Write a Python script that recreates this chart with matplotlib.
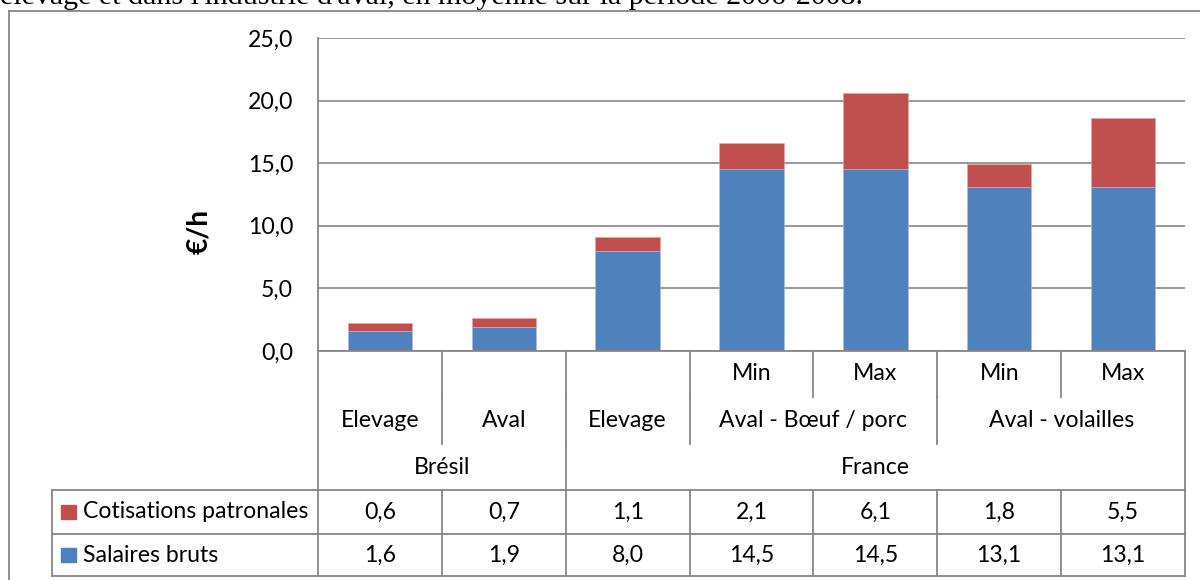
import matplotlib
matplotlib.use("Agg")
import matplotlib.pyplot as plt
from matplotlib.lines import Line2D
from matplotlib.patches import Rectangle
from matplotlib.textpath import TextPath
from matplotlib.font_manager import FontProperties

# ---- data -----------------------------------------------------------------
level1 = ["", "", "", "Min", "Max", "Min", "Max"]
level2 = ["Elevage", "Aval", "Elevage", "Aval - Bœuf / porc", "Aval - Bœuf / porc",
          "Aval - volailles", "Aval - volailles"]
level3 = ["Brésil", "Brésil", "France", "France", "France", "France", "France"]
series_names = ["Cotisations patronales", "Salaires bruts"]
cotisations = [0.6, 0.7, 1.1, 2.1, 6.1, 1.8, 5.5]
salaires = [1.6, 1.9, 8.0, 14.5, 14.5, 13.1, 13.1]
y_ticks = [0, 5, 10, 15, 20, 25]
y_label = "€/h"
caption = "élevage et dans l'industrie d'aval, en moyenne sur la période 2006-2008."

# ---- style ------------------------------------------------------------------
W, H, DPI = 1200, 580, 100
BLUE = "#4F81BD"
RED = "#C0504D"
GRID = "#878787"
UI_FONT = "Lato"
SERIF = "Liberation Serif"


def fit_size(text, family, target_px, weight="normal"):
    fp = FontProperties(family=family, weight=weight)
    ext = TextPath((0, 0), text, size=10, prop=fp).get_extents()
    return 10 * target_px / (ext.width * DPI / 72)


def fx(x):
    return x / W


def fy(y):
    return 1 - y / H


fs = fit_size("Cotisations patronales", UI_FONT, 223)
fs_caption = fit_size(caption, SERIF, 860)

fig = plt.figure(figsize=(W / DPI, H / DPI), dpi=DPI)
fig.patch.set_facecolor("white")

plot_left, plot_right, plot_top, plot_bottom = 318, 1185, 38, 351
ax = fig.add_axes([fx(plot_left), fy(plot_bottom),
                   fx(plot_right - plot_left), (plot_bottom - plot_top) / H])

n = len(salaires)
xs = list(range(n))
bw = 0.52
ax.bar(xs, salaires, width=bw, color=BLUE, edgecolor="#A7C0DE", linewidth=0.5, zorder=3)
ax.bar(xs, cotisations, width=bw, bottom=salaires, color=RED, edgecolor="#DFA8A6",
       linewidth=0.5, zorder=3)

ax.set_xlim(-0.5, n - 0.5)
ax.set_ylim(y_ticks[0], y_ticks[-1])
ax.set_yticks(y_ticks)
ax.set_yticklabels([f"{v:.1f}".replace(".", ",") for v in y_ticks],
                   fontsize=fs, family=UI_FONT)
ax.set_xticks([])
ax.tick_params(axis="y", length=0, pad=18)
ax.grid(axis="y", color=GRID, linewidth=1.2, zorder=0)
for s in ax.spines.values():
    s.set_visible(False)

fig.text(fx(199), fy(231), y_label, rotation=90, ha="center", va="center",
         fontsize=fs * 1.22, fontweight="bold", family=UI_FONT)

# caption line cut at the top edge
fig.text(fx(0), fy(3.5), caption, ha="left", va="baseline", fontsize=fs_caption,
         family=SERIF, color="black")

# outer chart frame
fig.add_artist(Line2D([fx(9), fx(1200)], [fy(11), fy(11)], color=GRID, lw=1.3))
fig.add_artist(Line2D([fx(9), fx(9)], [fy(11), fy(600)], color=GRID, lw=1.3))

# ---- category axis & data table ---------------------------------------------
fig.canvas.draw()
edges = [ax.transData.transform((k - 0.5, 0))[0] for k in range(n + 1)]
centers = [(edges[k] + edges[k + 1]) / 2 for k in range(n)]

row_y = [351, 397, 444, 490, 534, 576]
legend_left = 52


def hline(y, x0, x1):
    fig.add_artist(Line2D([fx(x0), fx(x1)], [fy(y), fy(y)], color=GRID, lw=1.3))


def vline(x, y0, y1):
    fig.add_artist(Line2D([fx(x), fx(x)], [fy(y0), fy(y1)], color=GRID, lw=1.3))


def put(x, y, s):
    fig.text(fx(x), fy(y), s, ha="center", va="center", fontsize=fs, family=UI_FONT)


# axis line and outer borders of the table
vline(edges[0], plot_top, row_y[5])
vline(edges[-1], row_y[0], row_y[5])
hline(row_y[0], edges[0], edges[-1])
for y in (row_y[3], row_y[4], row_y[5]):
    hline(y, legend_left, edges[-1])
vline(legend_left, row_y[3], row_y[5])


def spans(labels):
    out, start = [], 0
    for k in range(1, len(labels) + 1):
        if k == len(labels) or labels[k] != labels[start]:
            out.append((labels[start], start, k))
            start = k
    return out


# level rows: separators where the label changes, labels centred on spans
for r, labels in enumerate([level1, level2, level3]):
    y0, y1 = row_y[r], row_y[r + 1]
    ym = (y0 + y1) / 2
    groups = spans(labels) if r > 0 else [(lab, k, k + 1) for k, lab in enumerate(labels)]
    for lab, a, b in groups:
        if a > 0:
            vline(edges[a], y0, y1)
        if lab:
            put((edges[a] + edges[b]) / 2, ym, lab)

# data rows
for r, (name, vals, col) in enumerate([(series_names[0], cotisations, RED),
                                        (series_names[1], salaires, BLUE)]):
    y0, y1 = row_y[3 + r], row_y[4 + r]
    ym = (y0 + y1) / 2
    for k in range(1, n):
        vline(edges[k], y0, y1)
    for k, v in enumerate(vals):
        put(centers[k], ym, f"{v:.1f}".replace(".", ","))
    fig.add_artist(Rectangle((fx(61), fy(ym + 7)), fx(15), 14 / H, color=col,
                             transform=fig.transFigure))
    fig.text(fx(83), fy(ym), name, ha="left", va="center", fontsize=fs, family=UI_FONT)

fig.savefig("out.png", dpi=DPI)
